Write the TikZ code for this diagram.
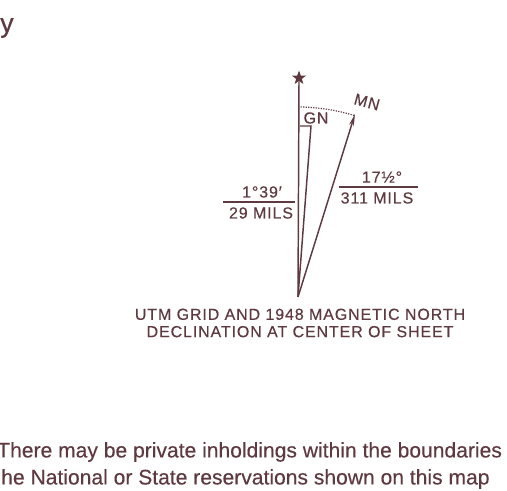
\documentclass[tikz,border=0pt]{standalone}
\usepackage{fontspec}
\setmainfont{Liberation Sans}
\usetikzlibrary{arrows.meta,shapes.geometric}
\definecolor{mapInk}{HTML}{5E3A40}
\tikzset{
  >={Stealth[length=9pt,width=3.6pt]},
  ink/.style={draw=mapInk, line width=1.1pt},
  arcline/.style={draw=mapInk, line width=0.9pt, densely dotted},
  caps/.style={text=mapInk, inner sep=0pt, font=\fontsize{12}{13}\selectfont\addfontfeature{LetterSpace=5.5,FakeBold=0.4}},
  note/.style={text=mapInk, inner sep=0pt, anchor=west, font=\fontsize{15.8}{18}\selectfont\addfontfeature{FakeBold=0.3}},
  starmark/.style={star, star points=5, star point ratio=2.4, fill=mapInk, inner sep=0pt, minimum size=11pt},
}
\begin{document}
\begin{tikzpicture}[x=0.75pt,y=0.75pt]
  \useasboundingbox (0,0) rectangle (507,491);
  \clip (0,0) rectangle (507,491);
  % declination diagram
  \coordinate (v) at (298,194);
  \node[starmark] (tn) at (299,413){};
  \coordinate (gnTop) at (311,365);
  \coordinate (gnFoot) at (300,365);
  \coordinate (mn) at (355,377);
  \draw[ink] (v) -- (tn.south);
  \draw[ink] (v) -- (gnTop) -- (gnFoot);
  \draw[ink,->] (v) -- (mn);
  \draw[arcline] (v) ++(90:190) arc[start angle=90, end angle=72.7, radius=190];
  \node[caps] (gn) at (316,373){GN};
  \node[caps,rotate=-15] (mnl) at (367,389){MN};
  % angle values
  \node[caps] (gnDeg) at (262,299){1°39′};
  \node[caps] (gnMils) at (261,278){29 MILS};
  \coordinate (gnRuleL) at (223,289);
  \coordinate (gnRuleR) at (295,289);
  \draw[ink,line width=0.9pt] (gnRuleL) -- (gnRuleR);
  \node[caps] (mnDeg) at (382,314){17½°};
  \node[caps] (mnMils) at (377,293){311 MILS};
  \coordinate (mnRuleL) at (339,304);
  \coordinate (mnRuleR) at (418,304);
  \draw[ink,line width=0.9pt] (mnRuleL) -- (mnRuleR);
  % caption
  \node[caps,align=center] (cap) at (300,168){UTM GRID AND 1948 MAGNETIC NORTH\\DECLINATION AT CENTER OF SHEET};
  % notes
  \node[note,font=\fontsize{20}{22}\selectfont\addfontfeature{FakeBold=0.6}] (corner) at (0,463){y};
  \node[note] (note1) at (-3,39){There may be private inholdings within the boundaries};
  \node[note] (note2) at (1,12){he National or State reservations shown on this map};
\end{tikzpicture}
\end{document}
